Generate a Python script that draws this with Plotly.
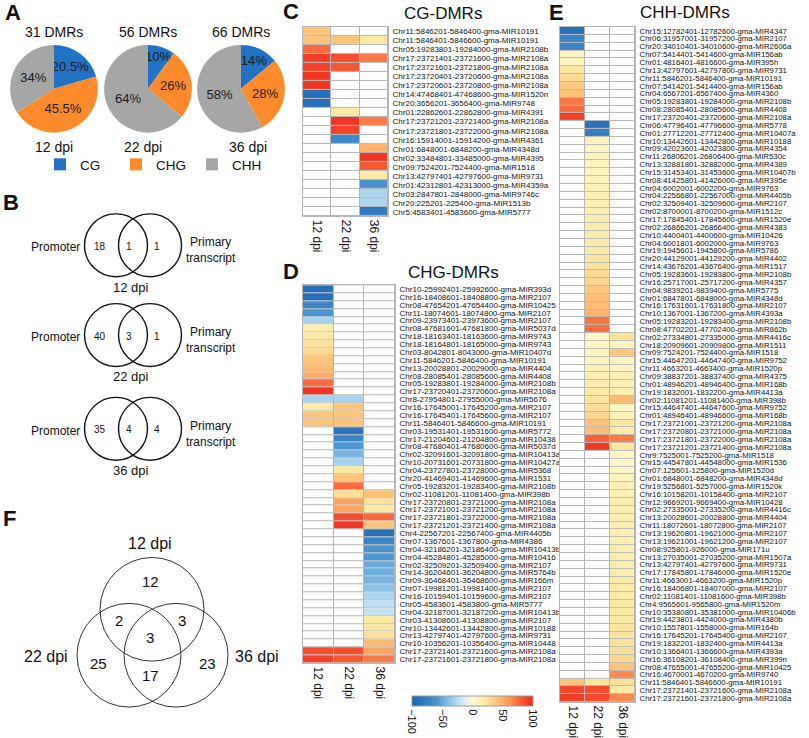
import plotly.graph_objects as go

W, H = 809, 738
FONT = "Liberation Sans, Arial, sans-serif"

def fx(px):
    return px / W

def fy(py):
    return 1 - py / H

# ---------------- Panel A data ----------------
ctx_labels = ["CG", "CHG", "CHH"]
ctx_colors = ["#2272c3", "#fd8a2b", "#a6a6a6"]
pie_12 = [20.5, 45.5, 34]
pie_22 = [10, 26, 64]
pie_36 = [14, 28, 58]
pie_titles = ["31 DMRs", "56 DMRs", "66 DMRs"]
pie_days = ["12 dpi", "22 dpi", "36 dpi"]

# ---------------- Panel B data ----------------
venn_b_promoter = [18, 40, 35]
venn_b_both = [1, 3, 4]
venn_b_primary = [1, 1, 4]

# ---------------- Panel F data ----------------
f_only12, f_only22, f_only36 = 12, 25, 23
f_12_22, f_12_36, f_22_36, f_all = 2, 3, 17, 3

# ---------------- Heatmap columns ----------------
days = ["12 dpi", "22 dpi", "36 dpi"]

# ---------------- Panel C: CG-DMRs ----------------
cg_labels = [
    "Chr11:5846201-5846400-gma-MIR10191",
    "Chr11:5846401-5846600-gma-MIR10191",
    "Chr05:19283801-19284000-gma-MIR2108b",
    "Chr17:23721401-23721600-gma-MIR2108a",
    "Chr17:23721601-23721800-gma-MIR2108a",
    "Chr17:23720401-23720600-gma-MIR2108a",
    "Chr17:23720601-23720800-gma-MIR2108a",
    "Chr14:47468401-47468600-gma-MIR1520n",
    "Chr20:3656201-3656400-gma-MIR9748",
    "Chr01:22862601-22862800-gma-MIR4391",
    "Chr17:23721201-23721400-gma-MIR2108a",
    "Chr17:23721801-23722000-gma-MIR2108a",
    "Chr16:15914001-15914200-gma-MIR4361",
    "Chr01:6848001-6848200-gma-MIR4348d",
    "Chr02:33484801-33485000-gma-MIR4395",
    "Chr09:7524201-7524400-gma-MIR1518",
    "Chr13:42797401-42797600-gma-MIR9731",
    "Chr01:42312801-42313000-gma-MIR4359a",
    "Chr03:2847801-2848000-gma-MIR9746c",
    "Chr20:225201-225400-gma-MIR1513b",
    "Chr5:4583401-4583600-gma-MIR5777",
]
N = None
cg_12 = [40, 40, 75, 92, 92, 95, 95, -90, -90, N, N, N, N, N, N, N, N, N, N, N, N]
cg_22 = [N, 40, N, 85, 82, N, N, N, N, 20, 95, 90, -70, N, N, N, N, N, N, N, N]
cg_36 = [N, 20, N, 70, N, N, N, N, N, N, 70, N, N, 48, 95, 80, 20, -62, -28, -28, -82]

# ---------------- Panel D: CHG-DMRs ----------------
chg_labels = [
    "Chr10-25992401-25992600-gma-MIR393d",
    "Chr16-18408601-18408800-gma-MIR2107",
    "Chr08-47654201-47654400-gma-MIR10425",
    "Chr11-18074601-18074800-gma-MIR2107",
    "Chr09-23973401-23973600-gma-MIR2107",
    "Chr08-47681601-47681800-gma-MIR5037d",
    "Chr18-18163401-18163600-gma-MIR9743",
    "Chr18-18164801-18165000-gma-MIR9743",
    "Chr03-8042801-8043000-gma-MIR10407d",
    "Chr11-5846201-5846400-gma-MIR10191",
    "Chr13-20028801-20029000-gma-MIR4404",
    "Chr08-28085401-28085600-gma-MIR4408",
    "Chr05-19283801-19284000-gma-MIR2108b",
    "Chr17-23720401-23720600-gma-MIR2108a",
    "Chr8-27954801-27955000-gma-MIR5676",
    "Chr16-17645001-17645200-gma-MIR2107",
    "Chr16-17645401-17645600-gma-MIR2107",
    "Chr11-5846401-5846600-gma-MIR10191",
    "Chr03-19531401-19531600-gma-MIR5772",
    "Chr17-21204601-21204800-gma-MIR10438",
    "Chr08-47680401-47680600-gma-MIR5037d",
    "Chr02-32091601-32091800-gma-MIR10413a",
    "Chr10-20731601-20731800-gma-MIR10427a",
    "Chr04-23727801-23728000-gma-MIR5368",
    "Chr20-41469401-41469600-gma-MIR1531",
    "Chr05-19283201-19283400-gma-MIR2108b",
    "Chr02-11081201-11081400-gma-MIR398b",
    "Chr17-23720801-23721000-gma-MIR2108a",
    "Chr17-23721001-23721200-gma-MIR2108a",
    "Chr17-23721801-23722000-gma-MIR2108a",
    "Chr17-23721201-23721400-gma-MIR2108a",
    "Chr4-22567201-22567400-gma-MIR4405b",
    "Chr07-1367601-1367800-gma-MIR4386",
    "Chr04-32186201-32186400-gma-MIR10413b",
    "Chr04-45284801-45285000-gma-MIR10416",
    "Chr02-32509201-32509400-gma-MIR2107",
    "Chr14-36204601-36204800-gma-MIR5764b",
    "Chr09-36468401-36468600-gma-MIR166m",
    "Chr07-19981201-19981400-gma-MIR2107",
    "Chr16-10159401-10159600-gma-MIR2107",
    "Chr05-4583601-4583800-gma-MIR5777",
    "Chr04-32187001-32187200-gma-MIR10413b",
    "Chr03-41308601-41308800-gma-MIR2107",
    "Chr10-13442601-13442800-gma-MIR10188",
    "Chr13-42797401-42797600-gma-MIR9731",
    "Chr10-10356201-10356400-gma-MIR10448",
    "Chr17-23721401-23721600-gma-MIR2108a",
    "Chr17-23721601-23721800-gma-MIR2108a",
]
chg_12 = [-90, -90, -70, -60, -30, 15, 20, 25, 30, 40, 45, 50, 75, 95,
          -30, 18, 40, 40] + [N] * 28 + [85, 90]
chg_22 = [N] * 14 + [-30, 40, 40, 40, -85, -75, -60, -45, -30, 20, 40, 75,
                     25, 55, 55, 85, 95] + [N] * 15 + [85, 80]
chg_36 = [N] * 26 + [40, 25, 20, 75, 40, -88, -72, -60, -58, -50, -48, -45,
                     -38, -28, -22, -20, 20, 22, 25, 45, 55, 70]

# ---------------- Panel E: CHH-DMRs ----------------
chh_labels = [
    "Chr15:12782401-12782600-gma-MIR4347",
    "Chr06:31957001-31957200-gma-MIR2107",
    "Chr20:34010401-34010600-gma-MIR2606a",
    "Chr07:5414401-5414600-gma-MIR156ab",
    "Chr01:4816401-4816600-gma-MIR395h",
    "Chr13:42797601-42797800-gma-MIR9731",
    "Chr11:5846201-5846400-gma-MIR10191",
    "Chr07:5414201-5414400-gma-MIR156ab",
    "Chr04:6567201-6567400-gma-MIR4360",
    "Chr05:19283801-19284000-gma-MIR2108b",
    "Chr08:28085401-28085600-gma-MIR4408",
    "Chr17:23720401-23720600-gma-MIR2108a",
    "Chr06:47796401-47796600-gma-MIR5778",
    "Chr01:27712201-27712400-gma-MIR10407a",
    "Chr10:13442601-13442800-gma-MIR10188",
    "Chr09:42023601-42023800-gma-MIR4354",
    "Chr11:26806201-26806400-gma-MIR530c",
    "Chr13:32881801-32882000-gma-MIR4389",
    "Chr15:31453401-31453600-gma-MIR10407b",
    "Chr08:41425801-41426000-gma-MIR395e",
    "Chr04:6002001-6002200-gma-MIR9763",
    "Chr04:22566801-22567000-gma-MIR4405b",
    "Chr02:32509401-32509600-gma-MIR2107",
    "Chr02:8700001-8700200-gma-MIR1512c",
    "Chr17:17845401-17845600-gma-MIR1520e",
    "Chr02:26866201-26866400-gma-MIR4383",
    "Chr10:4400401-4400600-gma-MIR10426",
    "Chr04:6001801-6002000-gma-MIR9763",
    "Chr19:1945601-1945800-gma-MIR5786",
    "Chr20:44129001-44129200-gma-MIR4402",
    "Chr14:43676201-43676400-gma-MIR1517",
    "Chr05:19283601-19283800-gma-MIR2108b",
    "Chr16:25717001-25717200-gma-MIR4357",
    "Chr04:9839201-9839400-gma-MIR5775",
    "Chr01:6847801-6848000-gma-MIR4348d",
    "Chr16:17631601-17631800-gma-MIR2107",
    "Chr10:1367001-1367200-gma-MIR4393a",
    "Chr05:19283201-19283400-gma-MIR2108b",
    "Chr08:47702201-47702400-gma-MIR862b",
    "Chr02:27334801-27335000-gma-MIR4416c",
    "Chr18:20909601-20909800-gma-MIR1511",
    "Chr09:7524201-7524400-gma-MIR1518",
    "Chr15:44647201-44647400-gma-MIR9752",
    "Chr11:4663201-4663400-gma-MIR1520p",
    "Chr09:38837201-38837400-gma-MIR4375",
    "Chr01:48946201-48946400-gma-MIR168b",
    "Chr19:1832001-1832200-gma-MIR4413a",
    "Chr02:11081201-11081400-gma-MIR398b",
    "Chr15:44647401-44647600-gma-MIR9752",
    "Chr01:48946401-48946600-gma-MIR168b",
    "Chr17:23721001-23721200-gma-MIR2108a",
    "Chr17:23720801-23721000-gma-MIR2108a",
    "Chr17:23721801-23722000-gma-MIR2108a",
    "Chr17:23721201-23721400-gma-MIR2108a",
    "Chr9:7525001-7525200-gma-MIR1518",
    "Chr15:44547801-44548000-gma-MIR1536",
    "Chr07:125601-125800-gma-MIR1520d",
    "Chr01:6848001-6848200-gma-MIR4348d",
    "Chr19:5256801-5257000-gma-MIR1520k",
    "Chr16:10158201-10158400-gma-MIR2107",
    "Chr12:9669201-9669400-gma-MIR10428",
    "Chr02:27335001-27335200-gma-MIR4416c",
    "Chr13:20028601-20028800-gma-MIR4404",
    "Chr11:18072601-18072800-gma-MIR2107",
    "Chr13:19620801-19621000-gma-MIR2107",
    "Chr13:19621001-19621200-gma-MIR2107",
    "Chr08:925801-926000-gma-MIR171u",
    "Chr13:27035001-27035200-gma-MIR1507a",
    "Chr13:42797401-42797600-gma-MIR9731",
    "Chr17:17845801-17846000-gma-MIR1520e",
    "Chr11:4663001-4663200-gma-MIR1520p",
    "Chr16:18406801-18407000-gma-MIR2107",
    "Chr02:11081401-11081600-gma-MIR398b",
    "Chr4:9565601-9565800-gma-MIR1520m",
    "Chr10:35380801-35381000-gma-MIR10406b",
    "Chr19:4423801-4424000-gma-MIR4380b",
    "Chr10:1557801-1558000-gma-MIR164b",
    "Chr16:17645201-17645400-gma-MIR2107",
    "Chr19:1832201-1832400-gma-MIR4413a",
    "Chr10:1366401-1366600-gma-MIR4393a",
    "Chr16:36108201-36108400-gma-MIR399n",
    "Chr08:47655001-47655200-gma-MIR10425",
    "Chr16:4670001-4670200-gma-MIR9740",
    "Chr11:5846401-5846600-gma-MIR10191",
    "Chr17:23721401-23721600-gma-MIR2108a",
    "Chr17:23721601-23721800-gma-MIR2108a",
]
chh_12 = [-90, -75, -75, 8, 8, 22, 28, 38, 42, 72, 75, 92] + [N] * 71 + [40, 88, 92]
chh_22 = [N] * 12 + [-88, -78, 8, 8, 10, 10, 10, 10, 12, 12, 14, 14, 16, 16,
                     18, 18, 20, 22, 24, 28, 30, 38, 42, 44, 48, 72, 74,
                     6, 6, 8, 8, 12, 14, 16, 20, 22, 26, 30, 42, 44, 78, 94] + [N] * 29 + [22, 86, 88]
chh_36 = [N] * 39 + [24, 8, 38, 8, 6, 12, 12, 16, 45, 5, 10, 20, 18, 70, 22,
                     6, 6, 6, 8, 12, 12, 14, 14, 14, 14, 14, 14, 16, 16, 16, 16,
                     18, 18, 18, 20, 20, 20, 22, 22, 24, 26, 30, 40, 65] + [25, 18, 65]

colorscale = [
    [0.0, "#1a63b2"], [0.2, "#4a94d0"], [0.35, "#a6d3ee"], [0.45, "#e4f3f8"],
    [0.5, "#fffbd2"], [0.6, "#fee9a2"], [0.7, "#fdc47a"], [0.8, "#fd9a56"],
    [0.9, "#f75b36"], [1.0, "#f02a1b"],
]

fig = go.Figure()

# ---------------- Pies ----------------
pie_vals = [pie_12, pie_22, pie_36]
pie_cx = [54, 148, 241]
pie_r = 44
pie_cy = 89
for i, vals in enumerate(pie_vals):
    fig.add_trace(go.Pie(
        labels=ctx_labels, values=vals, sort=False, direction="clockwise",
        marker=dict(colors=ctx_colors),
        text=[f"{v:g}%" for v in vals], textinfo="text",
        textposition="inside", insidetextorientation="horizontal",
        textfont=dict(size=13, color="#1a1a1a", family=FONT),
        domain=dict(x=[fx(pie_cx[i] - pie_r), fx(pie_cx[i] + pie_r)],
                    y=[fy(pie_cy + pie_r), fy(pie_cy - pie_r)]),
        showlegend=(i == 0), hoverinfo="label+percent",
    ))

# ---------------- Heatmaps ----------------
panels = [
    (cg_labels, cg_12, cg_22, cg_36, "x", "y"),
    (chg_labels, chg_12, chg_22, chg_36, "x2", "y2"),
    (chh_labels, chh_12, chh_22, chh_36, "x3", "y3"),
]
for k, (labels, a, b, c, xa, ya) in enumerate(panels):
    n = len(labels)
    rows = list(range(n))
    fig.add_trace(go.Heatmap(
        x=days, y=rows, z=[[0, 0, 0] for _ in rows],
        colorscale=[[0, "white"], [1, "white"]], showscale=False,
        xgap=1, ygap=1, hoverinfo="skip", xaxis=xa, yaxis=ya,
    ))
    z = [[a[i], b[i], c[i]] for i in rows]
    fig.add_trace(go.Heatmap(
        x=days, y=rows, z=z, coloraxis="coloraxis",
        xgap=1, ygap=1, xaxis=xa, yaxis=ya,
        hovertemplate="%{x}: %{z}<extra></extra>",
    ))

day_font = dict(size=12, color="#111", family=FONT)
geo = {
    "": ((303, 388), (27, 217), cg_labels, 8),
    "2": ((303, 395), (286, 665), chg_labels, 8),
    "3": ((560, 635), (27, 704), chh_labels, 7.8),
}
for suf, ((x0, x1), (y0, y1), labels, fs) in geo.items():
    fig.layout["xaxis" + suf] = dict(
        domain=[fx(x0), fx(x1)], anchor="y" + suf, tickangle=90,
        tickfont=day_font, showgrid=False, zeroline=False, ticks="",
        showline=True, linecolor="#b5b5b5", mirror=True, linewidth=1,
        fixedrange=True,
    )
    fig.layout["yaxis" + suf] = dict(
        domain=[fy(y1), fy(y0)], anchor="x" + suf, side="right",
        autorange="reversed", tickmode="array",
        tickvals=list(range(len(labels))), ticktext=labels,
        tickfont=dict(size=fs, color="#111", family=FONT),
        showgrid=False, zeroline=False,
        ticks="outside", ticklen=2, tickcolor="rgba(0,0,0,0)",
        showline=True, linecolor="#b5b5b5", mirror=True, linewidth=1,
        fixedrange=True,
    )

fig.update_layout(
    coloraxis=dict(
        colorscale=colorscale, cmin=-100, cmax=100,
        colorbar=dict(
            orientation="h", x=fx(412), xanchor="left", y=fy(698), yanchor="top",
            len=121, lenmode="pixels", thickness=10, xpad=0, ypad=0,
            tickvals=[-100, -50, 0, 50, 100], tickangle=90, ticks="",
            tickfont=dict(size=11, color="#111", family=FONT),
            outlinewidth=1, outlinecolor="#999",
        ),
    ),
)

# ---------------- Shapes (Venn diagrams) ----------------
shapes = []

def circle(cx, cy, r, width, color):
    return dict(type="circle", xref="paper", yref="paper",
                x0=fx(cx - r), x1=fx(cx + r), y0=fy(cy + r), y1=fy(cy - r),
                line=dict(color=color, width=width), layer="above")

annotations = []

def text(px, py, s, size, bold=False, xanchor="center", yanchor="middle", align="center"):
    annotations.append(dict(
        x=fx(px), y=fy(py), xref="paper", yref="paper", text=(f"<b>{s}</b>" if bold else s),
        showarrow=False, xanchor=xanchor, yanchor=yanchor, align=align,
        font=dict(size=size, color="#111", family=FONT),
    ))

venn_cy = [246, 336, 430]
for i, cy in enumerate(venn_cy):
    shapes.append(circle(116, cy, 31.5, 1.4, "#111"))
    shapes.append(circle(150, cy, 31.5, 1.4, "#111"))
    text(100, cy + 1, str(venn_b_promoter[i]), 10)
    text(129, cy + 1, str(venn_b_both[i]), 10)
    text(157, cy + 1, str(venn_b_primary[i]), 10)
    text(82, cy + 2, "Promoter", 12, xanchor="right")
    text(211, cy + 5, "Primary<br>transcript", 12)
    text(131, cy + 42, pie_days[i], 13)

# F: three-set Venn
shapes.append(circle(152, 611, 52, 1, "#333"))
shapes.append(circle(129, 657, 52, 1, "#333"))
shapes.append(circle(176, 657, 52, 1, "#333"))
text(150, 545, "12 dpi", 16)
text(46, 658, "22 dpi", 16)
text(257, 658, "36 dpi", 16)
text(150, 583, str(f_only12), 15)
text(119, 622, str(f_12_22), 15)
text(182, 622, str(f_12_36), 15)
text(150, 639, str(f_all), 15)
text(98, 665, str(f_only22), 15)
text(150, 677, str(f_22_36), 15)
text(207, 665, str(f_only36), 15)

# pie titles / days
for i in range(3):
    text(pie_cx[i], 32, pie_titles[i], 14)
day_x = [54, 143, 248]
for i in range(3):
    text(day_x[i], 147, pie_days[i], 14)

# panel letters
for lab, (px, py) in {"A": (13, 13), "B": (11, 203), "C": (291, 12),
                      "D": (291, 272), "E": (556, 13), "F": (9, 520)}.items():
    text(px, py, lab, 22, bold=True)

# panel titles
text(443, 14, "CG-DMRs", 17)
text(453, 273, "CHG-DMRs", 17)
text(685, 13, "CHH-DMRs", 17)

fig.update_layout(
    width=W, height=H, margin=dict(l=0, r=0, t=0, b=0),
    paper_bgcolor="white", plot_bgcolor="#b5b5b5",
    font=dict(family=FONT, color="#111"),
    shapes=shapes, annotations=annotations,
    legend=dict(orientation="h", x=fx(40), y=fy(165), xanchor="left", yanchor="middle",
                font=dict(size=13.5, family=FONT, color="#111"),
                itemwidth=30, entrywidth=31, entrywidthmode="pixels",
                tracegroupgap=0, bgcolor="rgba(0,0,0,0)"),
    uniformtext=dict(minsize=12, mode="show"),
)

fig.write_html("out.html", config={"displayModeBar": False},
               post_script="document.body.style.margin='0';document.body.style.overflow='hidden';")
